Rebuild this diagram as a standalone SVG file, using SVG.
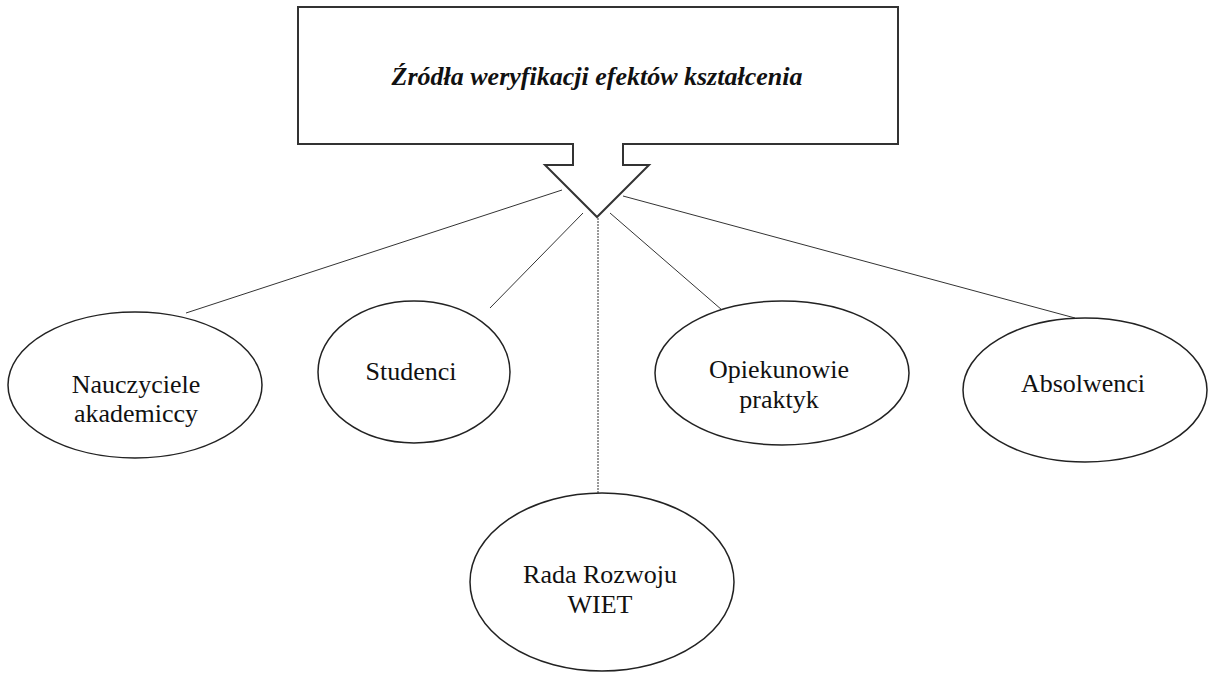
<svg xmlns="http://www.w3.org/2000/svg" width="1209" height="677" viewBox="0 0 1209 677">
<style>
.node{fill:#fff;stroke:#222;stroke-width:1.5}
.lbl{font-family:"Liberation Serif","Times New Roman",serif;font-size:26px;fill:#111;text-anchor:middle}
.title{font-family:"Liberation Serif","Times New Roman",serif;font-size:26px;font-weight:bold;font-style:italic;fill:#111;text-anchor:middle}
.conn{stroke:#333;stroke-width:1;fill:none}
</style>
<rect width="1209" height="677" fill="#fff"/>
<g id="connectors">
<line class="conn" x1="562" y1="190" x2="186" y2="313"/>
<line class="conn" x1="583" y1="213" x2="490" y2="308"/>
<line class="conn" x1="598" y1="218" x2="598" y2="493" stroke-dasharray="2,1"/>
<line class="conn" x1="610" y1="213" x2="722" y2="310"/>
<line class="conn" x1="623" y1="196" x2="1075" y2="318"/>
</g>
<g id="title">
<path d="M298,7 H898 V144 H623 V165 H649 L597,217 L545,165 H573 V144 H298 Z" fill="#fff" stroke="#333" stroke-width="2"/>
<text class="title" x="597" y="85">Źródła weryfikacji efektów kształcenia</text>
</g>
<g id="nauczyciele">
<ellipse class="node" cx="135" cy="385" rx="127" ry="73"/>
<text class="lbl" x="136" y="393">Nauczyciele</text>
<text class="lbl" x="136" y="422">akademiccy</text>
</g>
<g id="studenci">
<ellipse class="node" cx="414" cy="372" rx="96" ry="71"/>
<text class="lbl" x="411" y="380">Studenci</text>
</g>
<g id="opiekunowie">
<ellipse class="node" cx="782" cy="373" rx="127" ry="72"/>
<text class="lbl" x="779" y="378">Opiekunowie</text>
<text class="lbl" x="779" y="408">praktyk</text>
</g>
<g id="absolwenci">
<ellipse class="node" cx="1085" cy="390" rx="122" ry="72"/>
<text class="lbl" x="1083" y="392">Absolwenci</text>
</g>
<g id="rada">
<ellipse class="node" cx="602" cy="582" rx="132" ry="89"/>
<text class="lbl" x="600" y="583">Rada Rozwoju</text>
<text class="lbl" x="600" y="613">WIET</text>
</g>
</svg>
